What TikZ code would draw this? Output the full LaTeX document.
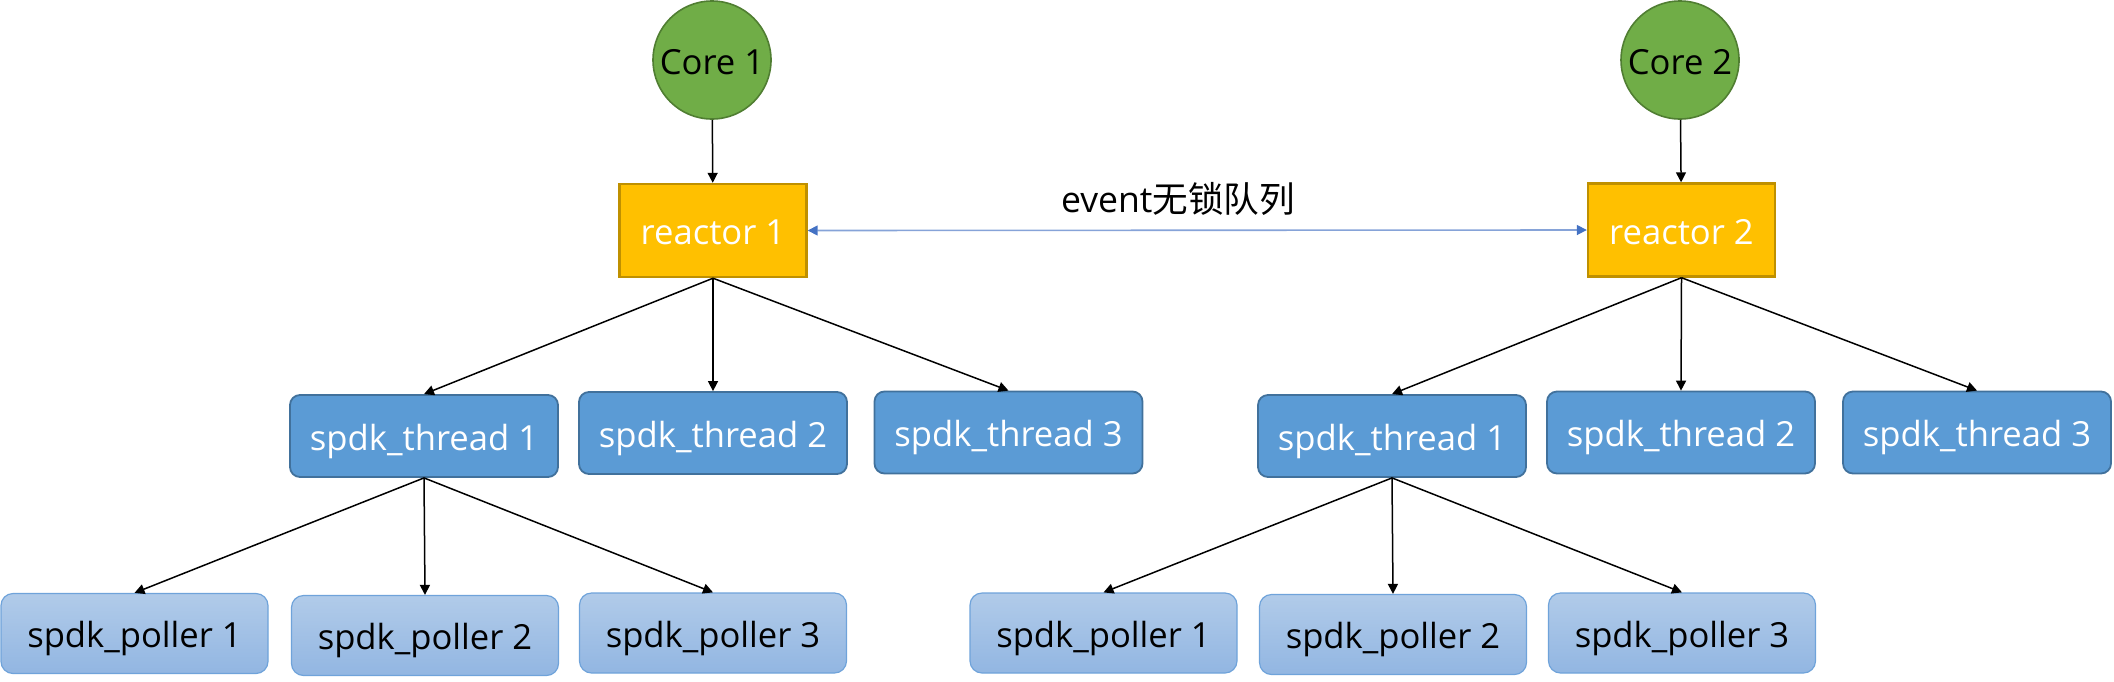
\documentclass[tikz,border=0pt]{standalone}
\usepackage{fontspec}
\setmainfont{Open Sans}
\newfontfamily\cjk{Noto Sans CJK SC}
\usetikzlibrary{arrows.meta}
\definecolor{coreg}{HTML}{70AD47}
\definecolor{coreb}{HTML}{507E32}
\definecolor{reacty}{HTML}{FFC000}
\definecolor{reactb}{HTML}{BF9000}
\definecolor{thrf}{HTML}{5B9BD5}
\definecolor{thrd}{HTML}{41719C}
\definecolor{polt}{HTML}{B1CBE9}
\definecolor{polb}{HTML}{92B6E2}
\definecolor{pold}{HTML}{6FA3DA}
\definecolor{evline}{HTML}{86A3D8}
\definecolor{evtip}{HTML}{4472C4}
\begin{document}
\begin{tikzpicture}[x=0.5pt,y=-0.5pt,
  txt/.style={font=\fontsize{17.3}{20}\selectfont,text height=14pt,text depth=0pt},
  corenode/.style={txt,circle,fill=coreg,draw=coreb,line width=0.8pt,minimum size=59pt,inner sep=0pt},
  reactorbox/.style={txt,rectangle,fill=reacty,draw=reactb,line width=1.2pt,minimum width=93.5pt,minimum height=46.5pt,inner sep=0pt,text=white},
  threadbox/.style={txt,rectangle,rounded corners=5pt,fill=thrf,draw=thrd,line width=0.9pt,minimum width=134pt,minimum height=41pt,inner sep=0pt,text=white},
  pollerbox/.style={txt,rectangle,rounded corners=6pt,top color=polt,bottom color=polb,draw=pold,line width=0.6pt,minimum width=133.5pt,minimum height=40pt,inner sep=0pt,text=black},
  arr/.style={line width=0.75pt,-{Triangle[length=5pt,width=5pt]}},
  dbl/.style={line width=0.8pt,draw=evline,{Triangle[length=5pt,width=5pt,color=evtip]}-{Triangle[length=5pt,width=5pt,color=evtip]}}
]
\useasboundingbox (0,0) rectangle (2114,681);
% left group
\node[corenode] (core1) at (712,60) {Core 1};
\node[reactorbox] (r1) at (713,230.5) {reactor 1};
\node[threadbox] (t1L) at (424,436) {spdk\_thread 1};
\node[threadbox] (t2L) at (713,433) {spdk\_thread 2};
\node[threadbox] (t3L) at (1008.5,432.5) {spdk\_thread 3};
\node[pollerbox] (p1L) at (134.5,633.5) {spdk\_poller 1};
\node[pollerbox] (p2L) at (425,635.5) {spdk\_poller 2};
\node[pollerbox] (p3L) at (713,633) {spdk\_poller 3};
% right group
\node[corenode] (core2) at (1680,60) {Core 2};
\node[reactorbox] (r2) at (1681.5,230) {reactor 2};
\node[threadbox] (t1R) at (1392,436) {spdk\_thread 1};
\node[threadbox] (t2R) at (1681,432.5) {spdk\_thread 2};
\node[threadbox] (t3R) at (1977,432.5) {spdk\_thread 3};
\node[pollerbox] (p1R) at (1103.5,633) {spdk\_poller 1};
\node[pollerbox] (p2R) at (1393,634.5) {spdk\_poller 2};
\node[pollerbox] (p3R) at (1682,633) {spdk\_poller 3};
% label
\node[font=\fontsize{17.8}{20}\selectfont] (lbl) at (1178,199) {event{\cjk 无锁队列}};
% connectors
\draw[arr] (core1) -- (r1);
\draw[arr] (r1.south) -- (t1L.north);
\draw[arr] (r1.south) -- (t2L.north);
\draw[arr] (r1.south) -- (t3L.north);
\draw[arr] (t1L.south) -- (p1L.north);
\draw[arr] (t1L.south) -- (p2L.north);
\draw[arr] (t1L.south) -- (p3L.north);
\draw[arr] (core2) -- (r2);
\draw[arr] (r2.south) -- (t1R.north);
\draw[arr] (r2.south) -- (t2R.north);
\draw[arr] (r2.south) -- (t3R.north);
\draw[arr] (t1R.south) -- (p1R.north);
\draw[arr] (t1R.south) -- (p2R.north);
\draw[arr] (t1R.south) -- (p3R.north);
\draw[dbl] (r1.east) -- (r2.west);
\end{tikzpicture}
\end{document}
